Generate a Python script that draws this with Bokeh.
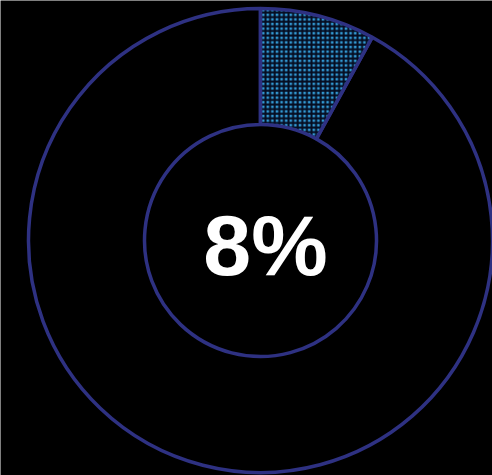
import math
import re
from bokeh.plotting import figure
from bokeh.models import Range1d
from bokeh.core.properties import value
from bokeh.embed import file_html
from bokeh.resources import INLINE

# data
labels = ["Share", "Rest"]
values = [8, 92]
center_label = "8%"

W, H = 492, 475
cx, cy = 260, 235
r_out, r_in = 232, 116

total = sum(values)
# clockwise from top
starts, ends = [], []
acc = 0.0
for v in values:
    a0 = math.pi / 2 - 2 * math.pi * acc / total
    acc += v
    a1 = math.pi / 2 - 2 * math.pi * acc / total
    starts.append(a1)
    ends.append(a0)

p = figure(width=W, height=H, output_backend="svg", toolbar_location=None,
           x_range=Range1d(0, W), y_range=Range1d(0, H),
           x_axis_location=None, y_axis_location=None, min_border=0)
p.grid.visible = False
p.outline_line_color = None
p.background_fill_color = "#000000"
p.border_fill_color = "#000000"

navy = "#2e3182"

# rest segment
p.annular_wedge(x=cx, y=cy, inner_radius=r_in, outer_radius=r_out,
                start_angle=starts[1], end_angle=ends[1],
                fill_color="#000000", line_color=navy, line_width=3.5)
# highlighted segment: bright fill cut into small squares by a dark grid
p.annular_wedge(x=cx, y=cy, inner_radius=r_in, outer_radius=r_out,
                start_angle=starts[0], end_angle=ends[0],
                fill_color="#3298d2", hatch_pattern="+", hatch_scale=4.6,
                hatch_weight=2, hatch_color="#050c20",
                line_color=navy, line_width=3.5)

p.text(x=[265], y=[231], text=[center_label], text_color="#ffffff",
       text_font=value("Liberation Sans"), text_font_style="bold",
       text_font_size="86px", text_align="center", text_baseline="alphabetic")

html = file_html(p, INLINE)
html = re.sub(r"<body([^>]*)>", r'<body\1 style="background-color:#000000;">', html, count=1)
open("out.html", "w").write(html)
